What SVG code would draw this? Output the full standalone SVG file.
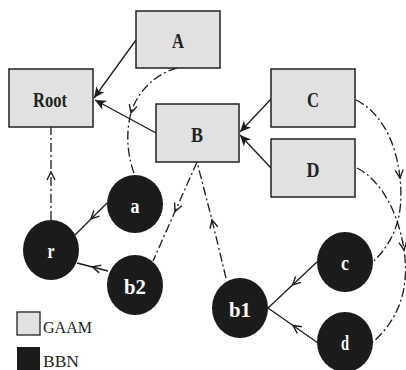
<svg xmlns="http://www.w3.org/2000/svg" width="406" height="370" viewBox="0 0 406 370">
<style>
.box{fill:#e1e1e1;stroke:#222;stroke-width:1.5}
.blob{fill:#1b1b1b}
.lbl{font-family:"Liberation Serif",serif;font-weight:bold;font-size:20px;text-anchor:middle;fill:#222}
.wl{font-family:"Liberation Serif",serif;font-weight:bold;font-size:20px;text-anchor:middle;fill:#fff}
.leg{font-family:"Liberation Serif",serif;font-size:17px;fill:#222}
.s{fill:none;stroke:#1b1b1b;stroke-width:1.3}
.dd{fill:none;stroke:#1b1b1b;stroke-width:1.3;stroke-dasharray:9 3 2 3}
</style>
<defs>
<marker id="fa" markerUnits="userSpaceOnUse" viewBox="-12 -6 13 12" refX="0" refY="0" markerWidth="13" markerHeight="12" orient="auto" overflow="visible">
<path d="M0,0 L-11,-5 L-8,0 L-11,5 Z" fill="#1b1b1b"/>
</marker>
<marker id="va" markerUnits="userSpaceOnUse" viewBox="-10 -6 12 12" refX="0" refY="0" markerWidth="12" markerHeight="12" orient="auto" overflow="visible">
<path d="M-8,-4 L0,0 L-8,4" fill="none" stroke="#1b1b1b" stroke-width="1.4"/>
</marker>
</defs>
<g id="connectors">
<path class="s" d="M136,40 L94,98" marker-end="url(#fa)"/>
<path class="s" d="M156,133 L95,100" marker-end="url(#fa)"/>
<path class="s" d="M271,99 L240,132" marker-end="url(#fa)"/>
<path class="s" d="M271,168 L240,135" marker-end="url(#fa)"/>
<path class="s" d="M107,203 L91,219 L75,235" marker-mid="url(#va)"/>
<path class="s" d="M108,271 L92.5,267 L77,263" marker-mid="url(#va)"/>
<path class="s" d="M317,262 L292.5,285 L268,308" marker-mid="url(#va)"/>
<path class="s" d="M318,343 L293,325.5 L268,308" marker-mid="url(#va)"/>
<path class="dd" d="M51,220 L51,172 L51,127" marker-mid="url(#va)"/>
<path class="dd" d="M197,162 L175,211.5 L153,261" marker-mid="url(#va)"/>
<path class="dd" d="M226,278 L212,220 L197,162" marker-mid="url(#va)"/>
<path class="dd" d="M177,68 C155,74 137,92 131,113 C125,135 128,158 135,176" marker-mid="url(#va)"/>
<path class="dd" d="M356,100 C380,112 396,140 400,178 C404,215 395,240 374,261" marker-mid="url(#va)"/>
<path class="dd" d="M357,168 C380,180 398,210 404,250 C410,290 398,320 373,342" marker-mid="url(#va)"/>
</g>
<g id="Root"><rect class="box" x="9" y="69" width="84" height="58"/><text class="lbl" x="50" y="107" textLength="34" lengthAdjust="spacingAndGlyphs">Root</text></g>
<g id="A"><rect class="box" x="136" y="11" width="84" height="57"/><text class="lbl" x="178" y="48" textLength="12" lengthAdjust="spacingAndGlyphs">A</text></g>
<g id="B"><rect class="box" x="156" y="104" width="83" height="58"/><text class="lbl" x="197" y="142" textLength="12" lengthAdjust="spacingAndGlyphs">B</text></g>
<g id="C"><rect class="box" x="271" y="69" width="84" height="58"/><text class="lbl" x="313" y="107" textLength="12" lengthAdjust="spacingAndGlyphs">C</text></g>
<g id="D"><rect class="box" x="271" y="139" width="84" height="58"/><text class="lbl" x="313" y="177" textLength="13" lengthAdjust="spacingAndGlyphs">D</text></g>
<g id="a"><ellipse class="blob" cx="135" cy="204" rx="28" ry="29"/><text class="wl" x="135" y="213" textLength="9" lengthAdjust="spacingAndGlyphs">a</text></g>
<g id="r"><ellipse class="blob" cx="51" cy="250" rx="28" ry="30"/><text class="wl" x="51" y="258" textLength="7" lengthAdjust="spacingAndGlyphs">r</text></g>
<g id="b2"><ellipse class="blob" cx="135" cy="285" rx="28" ry="30"/><text class="wl" x="135" y="294" textLength="22" lengthAdjust="spacingAndGlyphs">b2</text></g>
<g id="b1"><ellipse class="blob" cx="240" cy="308" rx="28" ry="30"/><text class="wl" x="240" y="317" textLength="22" lengthAdjust="spacingAndGlyphs">b1</text></g>
<g id="c"><ellipse class="blob" cx="345" cy="262" rx="28" ry="30"/><text class="wl" x="345" y="270" textLength="8" lengthAdjust="spacingAndGlyphs">c</text></g>
<g id="d"><ellipse class="blob" cx="345" cy="342" rx="28" ry="30"/><text class="wl" x="345" y="350" textLength="8" lengthAdjust="spacingAndGlyphs">d</text></g>
<g id="legend">
<rect x="17" y="312" width="23" height="23" fill="#e1e1e1" stroke="#222" stroke-width="1.3"/>
<text class="leg" x="43" y="333" textLength="49" lengthAdjust="spacingAndGlyphs">GAAM</text>
<rect x="17" y="347" width="23" height="23" fill="#1b1b1b"/>
<text class="leg" x="43" y="367" textLength="36" lengthAdjust="spacingAndGlyphs">BBN</text>
</g>
</svg>
